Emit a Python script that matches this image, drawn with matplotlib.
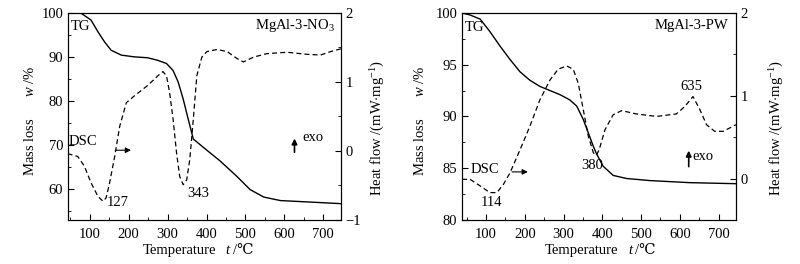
import numpy as np
import matplotlib as mpl
import matplotlib.pyplot as plt
from matplotlib.ticker import MultipleLocator

mpl.rcParams['font.family'] = ['Liberation Serif', 'DejaVu Serif']
mpl.rcParams['mathtext.fontset'] = 'custom'
mpl.rcParams['mathtext.rm'] = 'Liberation Serif'
mpl.rcParams['mathtext.it'] = 'Liberation Serif:italic'
mpl.rcParams['font.size'] = 10.5

# MgAl-3-NO3 : TG curve
tg1_t = [43, 78, 103, 121, 138, 155, 181, 215, 249, 275, 297, 314, 327, 340,
         353, 366, 392, 435, 478, 512, 547, 590, 658, 745]
tg1_w = [100, 99.9, 98.4, 95.7, 93.4, 91.5, 90.4, 90.0, 89.8, 89.2, 88.5, 86.9,
         84.3, 80.4, 75.8, 71.3, 69.4, 66.3, 62.8, 59.8, 58.1, 57.3, 57.0, 56.6]
# MgAl-3-NO3 : DSC curve
dsc1_t = [43, 69, 86, 103, 121, 134, 142, 151, 164, 177, 194, 215, 249, 275,
          288, 297, 305, 314, 323, 331, 340, 349, 357, 366, 375, 388, 401, 427,
          453, 478, 495, 521, 555, 607, 658, 693, 719, 745]
dsc1_h = [-0.04, -0.08, -0.22, -0.46, -0.66, -0.73, -0.68, -0.46, -0.08, 0.36,
          0.70, 0.80, 0.95, 1.09, 1.15, 1.09, 0.85, 0.46, -0.03, -0.37, -0.49,
          -0.42, -0.12, 0.46, 1.09, 1.36, 1.44, 1.47, 1.44, 1.34, 1.29, 1.36,
          1.41, 1.43, 1.40, 1.39, 1.44, 1.48]

# MgAl-3-PW : TG curve
tg2_t = [38, 59, 85, 110, 136, 162, 188, 213, 239, 265, 291, 316, 334, 351,
         364, 377, 385, 402, 428, 463, 523, 626, 745]
tg2_w = [100, 99.8, 99.4, 98.2, 96.8, 95.5, 94.3, 93.5, 92.9, 92.5, 92.1, 91.6,
         91.0, 89.7, 88.4, 87.1, 86.4, 85.2, 84.3, 84.0, 83.8, 83.6, 83.5]
# MgAl-3-PW : DSC curve
dsc2_t = [38, 59, 85, 110, 128, 145, 162, 188, 213, 239, 265, 286, 308, 325,
          338, 351, 364, 377, 385, 392, 407, 428, 450, 488, 540, 591, 613, 634,
          652, 669, 690, 712, 745]
dsc2_h = [-0.01, -0.01, -0.09, -0.17, -0.17, -0.07, 0.07, 0.35, 0.63, 0.95,
          1.19, 1.32, 1.36, 1.32, 1.15, 0.83, 0.51, 0.31, 0.28, 0.35, 0.59,
          0.77, 0.82, 0.78, 0.75, 0.78, 0.87, 0.99, 0.83, 0.65, 0.57, 0.57,
          0.65]

fig = plt.figure(figsize=(8, 2.64), dpi=100)
ax1 = fig.add_axes([0.085, 0.167, 0.341, 0.784])
ax2 = fig.add_axes([0.5775, 0.167, 0.3425, 0.784])


def setup(ax, xlim, ylim, ymaj, ymin, hlim, hmin, xl, yl):
    axr = ax.twinx()
    ax.set_xlim(*xlim)
    ax.set_ylim(*ylim)
    axr.set_ylim(*hlim)
    ax.xaxis.set_major_locator(MultipleLocator(100))
    ax.xaxis.set_minor_locator(MultipleLocator(50))
    ax.yaxis.set_major_locator(MultipleLocator(ymaj))
    ax.yaxis.set_minor_locator(MultipleLocator(ymin))
    axr.yaxis.set_major_locator(MultipleLocator(1))
    axr.yaxis.set_minor_locator(MultipleLocator(hmin))
    for a in (ax, axr):
        a.tick_params(which='both', direction='in', top=False, pad=3.5)
        a.tick_params(which='major', length=4)
        a.tick_params(which='minor', length=2.5)
        for s in a.spines.values():
            s.set_linewidth(0.8)
    ax.tick_params(axis='x', pad=6)
    # x label: "Temperature   t /℃" built from pieces (℃ needs DejaVu fallback)
    ax.text(xl[0], -0.15, 'Temperature', transform=ax.transAxes, ha='center', va='center')
    ax.text(xl[1], -0.15, 't', style='italic', transform=ax.transAxes, ha='center', va='center')
    ax.text(xl[2], -0.15, '/℃', transform=ax.transAxes, ha='left', va='center')
    fig.text(yl[0], 0.543, r'Mass loss      $\it{w}$ /%', rotation=90,
             ha='center', va='center')
    fig.text(yl[1], 0.515, r'Heat flow /(mW$\cdot$mg$^{-1}$)', rotation=90,
             ha='center', va='center')
    return axr


r1 = setup(ax1, (44, 745), (52.9, 100), 10, 5, (-1, 2), 0.5,
           (0.407, 0.586, 0.604), (30 / 800, 378 / 800))
ax1.plot(tg1_t, tg1_w, 'k-', lw=1)
r1.plot(dsc1_t, dsc1_h, 'k--', lw=0.9, dashes=(4, 2.5))
ax1.text(52, 97, 'TG', va='center')
ax1.text(0.978, 0.94, 'MgAl-3-NO$_3$', transform=ax1.transAxes, ha='right', va='center')
r1.text(45, 0.14, 'DSC', va='center')
r1.annotate('', xy=(213, 0.01), xytext=(158, 0.01),
            arrowprops=dict(arrowstyle='-|>', lw=0.8, color='k', mutation_scale=8))
r1.text(143, -0.75, '127', va='center')
r1.text(350, -0.61, '343', va='center')
r1.annotate('', xy=(626, 0.22), xytext=(626, -0.06),
            arrowprops=dict(arrowstyle='-|>', lw=1.2, color='k', mutation_scale=8))
r1.text(645, 0.2, 'exo', va='center')

r2 = setup(ax2, (38, 745), (80, 100), 5, 2.5, (-0.5, 2), 0.5,
           (0.437, 0.613, 0.631), (420 / 800, 777 / 800))
ax2.plot(tg2_t, tg2_w, 'k-', lw=1)
r2.plot(dsc2_t, dsc2_h, 'k--', lw=0.9, dashes=(4, 2.5))
ax2.text(45, 98.6, 'TG', va='center')
ax2.text(0.97, 0.94, 'MgAl-3-PW', transform=ax2.transAxes, ha='right', va='center')
r2.text(61, 0.11, 'DSC', va='center')
r2.annotate('', xy=(215, 0.08), xytext=(160, 0.08),
            arrowprops=dict(arrowstyle='-|>', lw=0.8, color='k', mutation_scale=8))
r2.text(113, -0.29, '114', ha='center', va='center')
r2.text(374, 0.16, '380', ha='center', va='center')
r2.text(631, 1.11, '635', ha='center', va='center')
r2.annotate('', xy=(623, 0.37), xytext=(623, 0.11),
            arrowprops=dict(arrowstyle='-|>', lw=1.2, color='k', mutation_scale=8))
r2.text(633, 0.26, 'exo', va='center')

fig.savefig('out.png', dpi=100)
